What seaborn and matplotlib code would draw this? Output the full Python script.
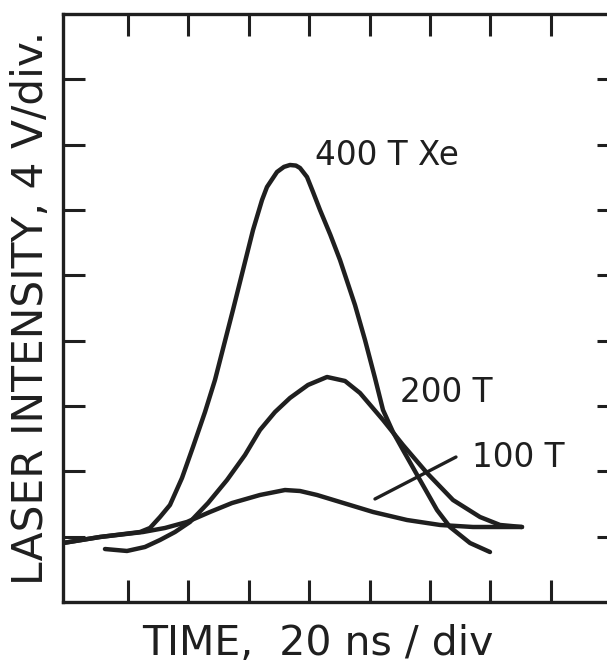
import matplotlib
matplotlib.use("Agg")
import matplotlib.pyplot as plt
import seaborn as sns
import pandas as pd

# ---- data (x in 20 ns divisions, y in 4 V divisions) ----
x_400 = [-0.076, 0.536, 1.199, 1.364, 1.530, 1.695, 1.894, 2.076, 2.275, 2.440,
         2.738, 2.937, 3.070, 3.219, 3.301, 3.467, 3.582, 3.682, 3.780, 3.848,
         3.964, 4.063, 4.179, 4.350, 4.510, 4.758, 4.924, 5.089, 5.222, 5.387,
         5.553, 5.834, 6.116, 6.331, 6.662, 6.993]
y_400 = [0.903, 0.995, 1.071, 1.133, 1.301, 1.485, 1.898, 2.373, 2.908, 3.398,
         4.470, 5.204, 5.694, 6.153, 6.352, 6.582, 6.660, 6.689, 6.680, 6.643,
         6.505, 6.276, 6.000, 5.620, 5.235, 4.546, 4.010, 3.429, 2.939, 2.602,
         2.327, 1.867, 1.408, 1.148, 0.903, 0.765]

x_200 = [0.619, 0.983, 1.281, 1.530, 1.778, 2.026, 2.325, 2.639, 2.937, 3.185,
         3.434, 3.682, 3.980, 4.295, 4.593, 4.841, 5.222, 5.553, 5.950, 6.381,
         6.828, 7.159, 7.523]
y_200 = [0.811, 0.781, 0.842, 0.949, 1.071, 1.225, 1.515, 1.867, 2.250, 2.633,
         2.908, 3.123, 3.322, 3.444, 3.383, 3.199, 2.786, 2.403, 1.975, 1.561,
         1.301, 1.179, 1.148]

x_100 = [-0.076, 0.536, 1.248, 1.613, 1.977, 2.358, 2.722, 3.185, 3.599, 3.848,
         4.129, 4.510, 5.056, 5.619, 6.166, 6.712, 7.275, 7.523]
y_100 = [0.903, 0.995, 1.071, 1.133, 1.225, 1.378, 1.515, 1.638, 1.714, 1.699,
         1.638, 1.531, 1.378, 1.255, 1.179, 1.148, 1.148, 1.148]

pointer_x = [5.089, 6.430]
pointer_y = [1.577, 2.219]

labels = ["400 T Xe", "200 T", "100 T"]
label_x = [4.096, 5.503, 6.695]
label_y = [6.689, 3.061, 2.066]

tick_pos = [1, 2, 3, 4, 5, 6, 7, 8]

# ---- style ----
sns.set_theme(style="ticks")
plt.rcParams["font.family"] = ["DejaVu Sans"]
ink = "#1f1f1f"

fig = plt.figure(figsize=(6.07, 6.68), dpi=100)
fig.patch.set_facecolor("white")
ax = fig.add_axes([63 / 607, 66 / 668, 556 / 607, 588 / 668])
ax.set_facecolor("white")

frames = []
for name, xs, ys in [("400", x_400, y_400), ("200", x_200, y_200), ("100", x_100, y_100)]:
    frames.append(pd.DataFrame({"t": xs, "v": ys, "curve": name}))
df = pd.concat(frames, ignore_index=True)

for name in ["400", "200", "100"]:
    sub = df[df["curve"] == name]
    sns.lineplot(data=sub, x="t", y="v", sort=False, estimator=None,
                 color=ink, linewidth=3.2, ax=ax, legend=False,
                 solid_capstyle="round", solid_joinstyle="round")

ax.plot(pointer_x, pointer_y, color=ink, linewidth=2.4, solid_capstyle="round")

for txt, tx, ty in zip(labels, label_x, label_y):
    ax.text(tx, ty, txt, fontsize=23.5, color=ink, ha="left", va="baseline")

ax.set_xlim(-0.076, 9.129)
ax.set_ylim(0, 9)
ax.set_xticks(tick_pos)
ax.set_yticks(tick_pos)
ax.set_xticklabels([])
ax.set_yticklabels([])
ax.tick_params(axis="both", which="major", direction="in", length=16,
               width=2.2, color=ink, top=True, right=True, bottom=True, left=True)
for side in ["left", "top", "bottom"]:
    ax.spines[side].set_visible(True)
    ax.spines[side].set_color(ink)
    ax.spines[side].set_linewidth(2.4)
ax.spines["right"].set_visible(False)

ax.set_xlabel("TIME,  20 ns / div", fontsize=29.5, color=ink)
ax.xaxis.set_label_coords(0.459, -0.037)
ax.set_ylabel("LASER INTENSITY, 4 V/div.", fontsize=30.5, color=ink)
ax.yaxis.set_label_coords(-0.02, 0.5)

fig.savefig("out.png", dpi=100, facecolor="white")
